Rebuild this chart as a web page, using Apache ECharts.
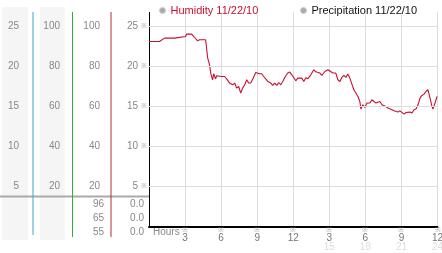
<!DOCTYPE html>
<html><head><meta charset="utf-8">
<script src="https://cdn.jsdelivr.net/npm/echarts/dist/echarts.min.js"></script>
<style>html,body{margin:0;padding:0;background:#fff}#c{width:442px;height:253px}</style>
</head><body><div id="c"></div>
<script>
// ---- data ----
const hours = [0,0.57,0.71,0.88,1.04,1.29,2.13,2.21,3.04,3.13,
3.54,3.63,3.88,4.04,4.21,4.71,4.88,5.04,5.13,5.29,
5.38,5.54,5.63,5.79,6.04,6.29,6.46,6.71,6.96,7.13,
7.29,7.46,7.63,7.79,7.96,8.13,8.29,8.46,8.63,8.88,
9.04,9.21,9.38,9.54,9.71,9.88,10.13,10.29,10.46,10.63,
10.79,10.96,11.13,11.29,11.54,11.71,11.88,12.04,12.21,12.38,
12.54,12.71,12.88,13.04,13.21,13.46,13.71,13.88,14.04,14.21,
14.38,14.63,14.88,15.04,15.29,15.54,15.71,15.88,16.04,16.21,
16.38,16.54,16.71,16.88,17.04,17.21,17.38,17.54,17.63,17.79,
17.96,18.13,18.38,18.54,18.71,18.88,19.04,19.21,19.38,19.54,
19.71,19.88,20.04,20.21,20.38,20.54,20.71,20.88,21.04,21.21,
21.38,21.54,21.71,21.88,22.04,22.21,22.38,22.54,22.71,22.88,
23.04,23.21,23.38,23.54,23.63,23.79,23.96];
const humidity = [23.13,23.13,23.34,23.13,23.3,23.55,23.55,23.75,23.75,24.05,
24.05,23.84,23.5,23.21,23.34,23.34,21.09,20.21,19.21,18.34,
19.09,18.46,18.84,18.59,18.75,18.75,18.46,17.93,17.71,17.93,
17.3,17.5,16.68,17.3,17.71,18.34,17.93,17.93,18.43,19.25,
19.34,19.09,19.09,18.75,18.46,18.13,17.93,17.63,17.93,17.63,
18.0,17.71,18.13,18.63,19.18,19.3,18.96,18.75,18.21,18.55,
18.34,18.55,18.13,18.59,18.46,18.96,19.59,19.34,19.46,19.18,
18.88,19.38,19.59,19.38,19.18,19.18,18.34,18.13,18.63,18.88,
18.63,19.05,18.55,17.8,17.09,16.68,16.25,15.63,14.68,15.21,
14.88,15.43,15.43,15.84,15.63,15.43,15.3,15.63,15.21,15.43,
15.0,14.8,14.88,14.59,14.46,14.59,14.3,14.46,14.38,14.05,
14.25,14.05,14.3,14.18,14.59,14.68,15.21,16.05,16.38,16.55,
16.88,17.09,16.05,15.0,14.68,15.43,16.25];
const precipitation = [];
const seriesNames = ['Humidity 11/22/10', 'Precipitation 11/22/10'];
const xTickLabels = ['', '3', '6', '9', '12', '3', '6', '9', '12'];
const xTickSub = ['', '', '', '', '', '15', '18', '21', '24'];
const unitTicks = [5, 10, 15, 20, 25];
const pctTicks = [20, 40, 60, 80, 100];
const currentA = ['96', '65', '55'];
const currentB = ['0.0', '0.0', '0.0'];

// ---- chart ----
const FONT = '"Liberation Sans", Arial, sans-serif';
const LBL = '#888';
const chart = echarts.init(document.getElementById('c'), null, {renderer: 'canvas'});

function yAx(offset, max, interval, ticks, margin, withMark) {
  return {
    type: 'value', position: 'left', offset: offset, min: 0, max: max, interval: interval,
    axisLine: {show: withMark, lineStyle: {color: '#000', width: 1}},
    axisTick: {show: false}, splitLine: {show: false},
    axisLabel: {
      margin: margin,
      formatter: v => ticks.indexOf(v) >= 0 ? (withMark ? '{n|' + v + '}{g|※}' : '{n|' + v + '}') : '',
      rich: {
        n: {color: LBL, fontSize: 10, fontFamily: FONT, padding: withMark ? [0, 3, 0, 0] : 0},
        g: {color: '#999', fontSize: 7}
      }
    }
  };
}

const option = {
  animation: false,
  backgroundColor: '#fff',
  grid: {left: 149, right: 4.5, top: 12.5, bottom: 26.5, outerBoundsMode: 'none', containLabel: false},
  legend: [
    {data: [{name: seriesNames[0], textStyle: {color: '#c8102e'}}], left: 154, top: 0, icon: 'circle',
     itemWidth: 6, itemHeight: 6, itemStyle: {color: '#aaa', borderColor: '#ccc', borderWidth: 1},
     textStyle: {fontSize: 11, fontFamily: FONT}, selectedMode: false},
    {data: [{name: seriesNames[1], textStyle: {color: '#111'}}], left: 295, top: 0, icon: 'circle',
     itemWidth: 6, itemHeight: 6, itemStyle: {color: '#aaa', borderColor: '#ccc', borderWidth: 1},
     textStyle: {fontSize: 11, fontFamily: FONT}, selectedMode: false}
  ],
  xAxis: {
    type: 'value', min: 0, max: 24, interval: 3,
    axisLine: {lineStyle: {color: '#000', width: 2}},
    axisTick: {show: false},
    splitLine: {show: true, lineStyle: {color: '#ddd', width: 1}},
    axisLabel: {
      margin: 1, verticalAlign: 'top',
      formatter: v => {
        const i = Math.round(v / 3);
        if (!xTickLabels[i]) return '';
        let s = '{t|※}\n{n|' + xTickLabels[i] + '}';
        if (xTickSub[i]) s += '\n{f|' + xTickSub[i] + '}';
        return s;
      },
      rich: {
        t: {color: '#999', fontSize: 7, lineHeight: 6, align: 'center'},
        n: {color: '#777', fontSize: 10, fontFamily: FONT, lineHeight: 9, align: 'center'},
        f: {color: '#ddd', fontSize: 10, fontFamily: FONT, lineHeight: 9, align: 'center'}
      }
    }
  },
  yAxis: [
    yAx(0, 26.75, 5, unitTicks, 2, true),
    yAx(38, 107, 20, pctTicks, 11, false),
    yAx(76.5, 107, 20, pctTicks, 12.5, false),
    yAx(116, 26.75, 5, unitTicks, 14, false)
  ],
  series: [
    {name: seriesNames[1], type: 'line', data: precipitation, yAxisIndex: 0, showSymbol: false,
     itemStyle: {color: '#aaa'}, z: 1,
     markLine: {silent: true, symbol: 'none', label: {show: false}, animation: false,
       lineStyle: {color: '#ddd', width: 1, type: 'solid'},
       data: unitTicks.map(v => ({yAxis: v}))}},
    {name: seriesNames[0], type: 'line', data: hours.map((h, i) => [h, humidity[i]]), yAxisIndex: 0,
     showSymbol: false, symbol: 'none', lineStyle: {color: '#c8102e', width: 1.1}, itemStyle: {color: '#aaa'}, z: 3}
  ],
  graphic: {elements: [
    {type: 'rect', shape: {x: 2, y: 7, width: 26, height: 233}, style: {fill: '#f5f5f5'}, z: -10, silent: true},
    {type: 'rect', shape: {x: 40, y: 7, width: 25, height: 233}, style: {fill: '#f5f5f5'}, z: -10, silent: true},
    {type: 'line', shape: {x1: 0, y1: 196.5, x2: 149, y2: 196.5}, style: {stroke: '#aaa', lineWidth: 2}, z: 5, silent: true},
    {type: 'line', shape: {x1: 33, y1: 12, x2: 33, y2: 235}, style: {stroke: '#3fa3cf', lineWidth: 1}, z: 6, silent: true},
    {type: 'line', shape: {x1: 72.5, y1: 12, x2: 72.5, y2: 237}, style: {stroke: '#3aa83a', lineWidth: 1}, z: 6, silent: true},
    {type: 'line', shape: {x1: 111, y1: 12, x2: 111, y2: 237}, style: {stroke: '#b03030', lineWidth: 1}, z: 6, silent: true},
    {type: 'text', left: 153, top: 227, style: {text: 'Hours', fill: LBL, font: '10px ' + FONT}, silent: true}
  ].concat(currentA.map((t, i) => ({type: 'text', x: 104, y: 204.5 + i * 14,
      style: {text: t, fill: LBL, font: '10px ' + FONT, textAlign: 'right', textVerticalAlign: 'middle'}, silent: true})))
   .concat(currentB.map((t, i) => ({type: 'text', x: 144, y: 204.5 + i * 14,
      style: {text: t, fill: LBL, font: '10px ' + FONT, textAlign: 'right', textVerticalAlign: 'middle'}, silent: true})))
  }
};
chart.setOption(option);
</script></body></html>
